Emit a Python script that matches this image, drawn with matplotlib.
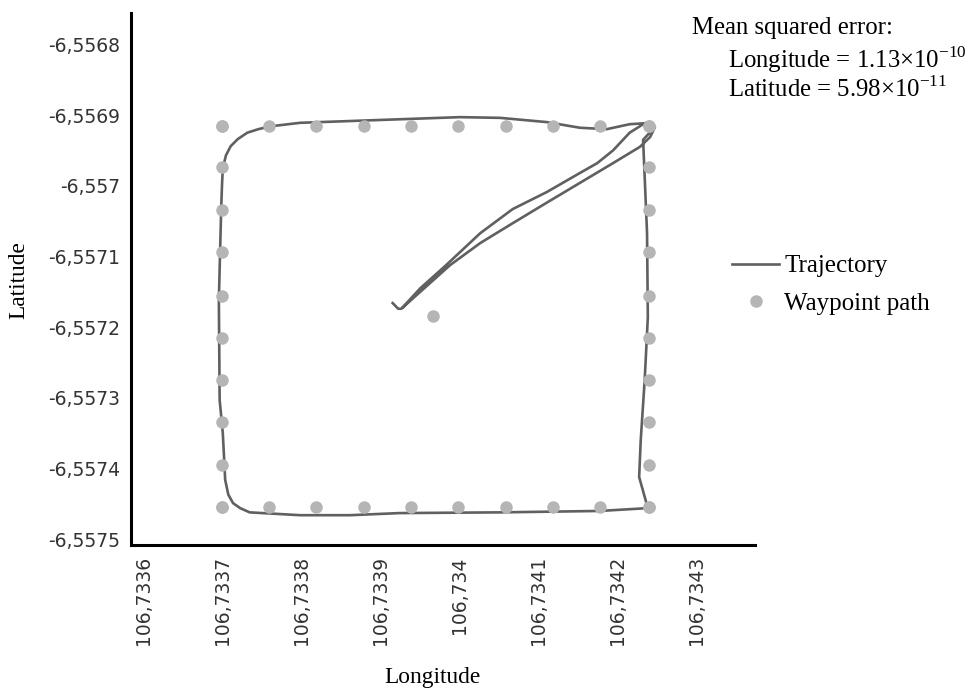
import matplotlib
matplotlib.use("Agg")
import matplotlib.pyplot as plt
from matplotlib.ticker import FixedLocator, FuncFormatter

# waypoint grid (lon / lat)
wp_lon = [106.733700, 106.733760, 106.733819, 106.733880, 106.733939,
          106.733999, 106.734059, 106.734119, 106.734178, 106.734240]
wp_lat = [-6.556916, -6.556974, -6.557034, -6.557094, -6.557156,
          -6.557215, -6.557275, -6.557334, -6.557395, -6.557454]
home_lon = 106.733967
home_lat = -6.557184

# trajectory points (outgoing diagonal, square loop, return diagonal)
traj_lon = [106.733916, 106.733923, 106.733927, 106.733951, 106.733982,
            106.734027, 106.734068, 106.734111, 106.734153, 106.734175,
            106.734195, 106.734216, 106.734233, 106.734244,
            106.734216, 106.734187, 106.734153, 106.734111, 106.734052,
            106.734001, 106.733925, 106.733799, 106.733761, 106.733746,
            106.733732, 106.733720, 106.733711, 106.733705, 106.733701,
            106.733700, 106.733699, 106.733696, 106.733697, 106.733701,
            106.733704, 106.733708, 106.733714, 106.733723, 106.733735,
            106.733799, 106.733862, 106.733925, 106.734052, 106.734178,
            106.734239, 106.734228, 106.734230, 106.734235, 106.734239,
            106.734238, 106.734233, 106.734248, 106.734242, 106.734229,
            106.734195, 106.734153, 106.734111, 106.734068, 106.734027,
            106.733989, 106.733951, 106.733929]
traj_lat = [-6.557166, -6.557174, -6.557174, -6.557145, -6.557114,
            -6.557067, -6.557033, -6.557009, -6.556982, -6.556968,
            -6.556950, -6.556925, -6.556913, -6.556911,
            -6.556913, -6.556920, -6.556918, -6.556910, -6.556904,
            -6.556903, -6.556906, -6.556911, -6.556916, -6.556920,
            -6.556925, -6.556934, -6.556944, -6.556957, -6.556975,
            -6.556999, -6.557030, -6.557162, -6.557303, -6.557350,
            -6.557416, -6.557437, -6.557449, -6.557456, -6.557462,
            -6.557466, -6.557466, -6.557463, -6.557462, -6.557460,
            -6.557456, -6.557412, -6.557360, -6.557275, -6.557186,
            -6.557067, -6.556935, -6.556917, -6.556931, -6.556945,
            -6.556968, -6.556996, -6.557024, -6.557053, -6.557081,
            -6.557112, -6.557150, -6.557172]

x_ticks = [106.7336, 106.7337, 106.7338, 106.7339, 106.7340, 106.7341, 106.7342, 106.7343]
y_ticks = [-6.5568, -6.5569, -6.5570, -6.5571, -6.5572, -6.5573, -6.5574, -6.5575]

mse_lon = "1.13"
mse_lat = "5.98"

# waypoint path: top row, right column, bottom row, left column
path_lon = wp_lon + [wp_lon[-1]] * 10 + wp_lon + [wp_lon[0]] * 10 + [home_lon]
path_lat = [wp_lat[0]] * 10 + wp_lat + [wp_lat[-1]] * 10 + wp_lat + [home_lat]

plt.rcParams['mathtext.fontset'] = 'custom'
plt.rcParams['mathtext.rm'] = 'Liberation Serif'
serif = 'Liberation Serif'

fig = plt.figure(figsize=(9.69, 6.88), dpi=100)
ax = fig.add_axes([0.1352, 0.2078, 0.644, 0.7733])

ax.plot(traj_lon, traj_lat, color='#606060', lw=1.9, label='Trajectory', zorder=2,
        solid_joinstyle='round')
ax.plot(path_lon, path_lat, 'o', color='#b5b5b5', ms=9, mew=0, label='Waypoint path', zorder=3)

ax.set_xlim(106.7335848, 106.7343747)
ax.set_ylim(-6.5575082, -6.5567557)

fmt = FuncFormatter(lambda v, p: f"{v:.4f}".rstrip('0').rstrip('.').replace('.', ','))
ax.xaxis.set_major_locator(FixedLocator(x_ticks))
ax.yaxis.set_major_locator(FixedLocator(y_ticks))
ax.xaxis.set_major_formatter(fmt)
ax.yaxis.set_major_formatter(fmt)
ax.tick_params(length=0, labelsize=13.5, labelcolor='#333333')
ax.tick_params(axis='x', rotation=90, pad=8)
ax.tick_params(axis='y', pad=8)

for s in ['top', 'right']:
    ax.spines[s].set_visible(False)
for s in ['left', 'bottom']:
    ax.spines[s].set_linewidth(2.2)
    ax.spines[s].set_color('black')

fig.text(0.019, 0.593, 'Latitude', rotation=90, ha='center', va='center',
         family=serif, fontsize=16.8)
fig.text(0.446, 0.015, 'Longitude', ha='center', va='center',
         family=serif, fontsize=16.8)

fig.text(0.714, 0.960, 'Mean squared error:', family=serif, fontsize=17.8, va='center')
fig.text(0.751, 0.913, 'Longitude = ' + mse_lon + r'×10$^{\mathregular{-10}}$',
         family=serif, fontsize=17.8, va='center')
fig.text(0.751, 0.871, 'Latitude = ' + mse_lat + r'×10$^{\mathregular{-11}}$',
         family=serif, fontsize=17.8, va='center')

fig.legend(loc='center left', bbox_to_anchor=(0.745, 0.586), frameon=False,
           prop={'family': serif, 'size': 18}, handlelength=1.9,
           handletextpad=0.2, labelspacing=0.6, borderaxespad=0)

fig.savefig('out.png', dpi=100)
